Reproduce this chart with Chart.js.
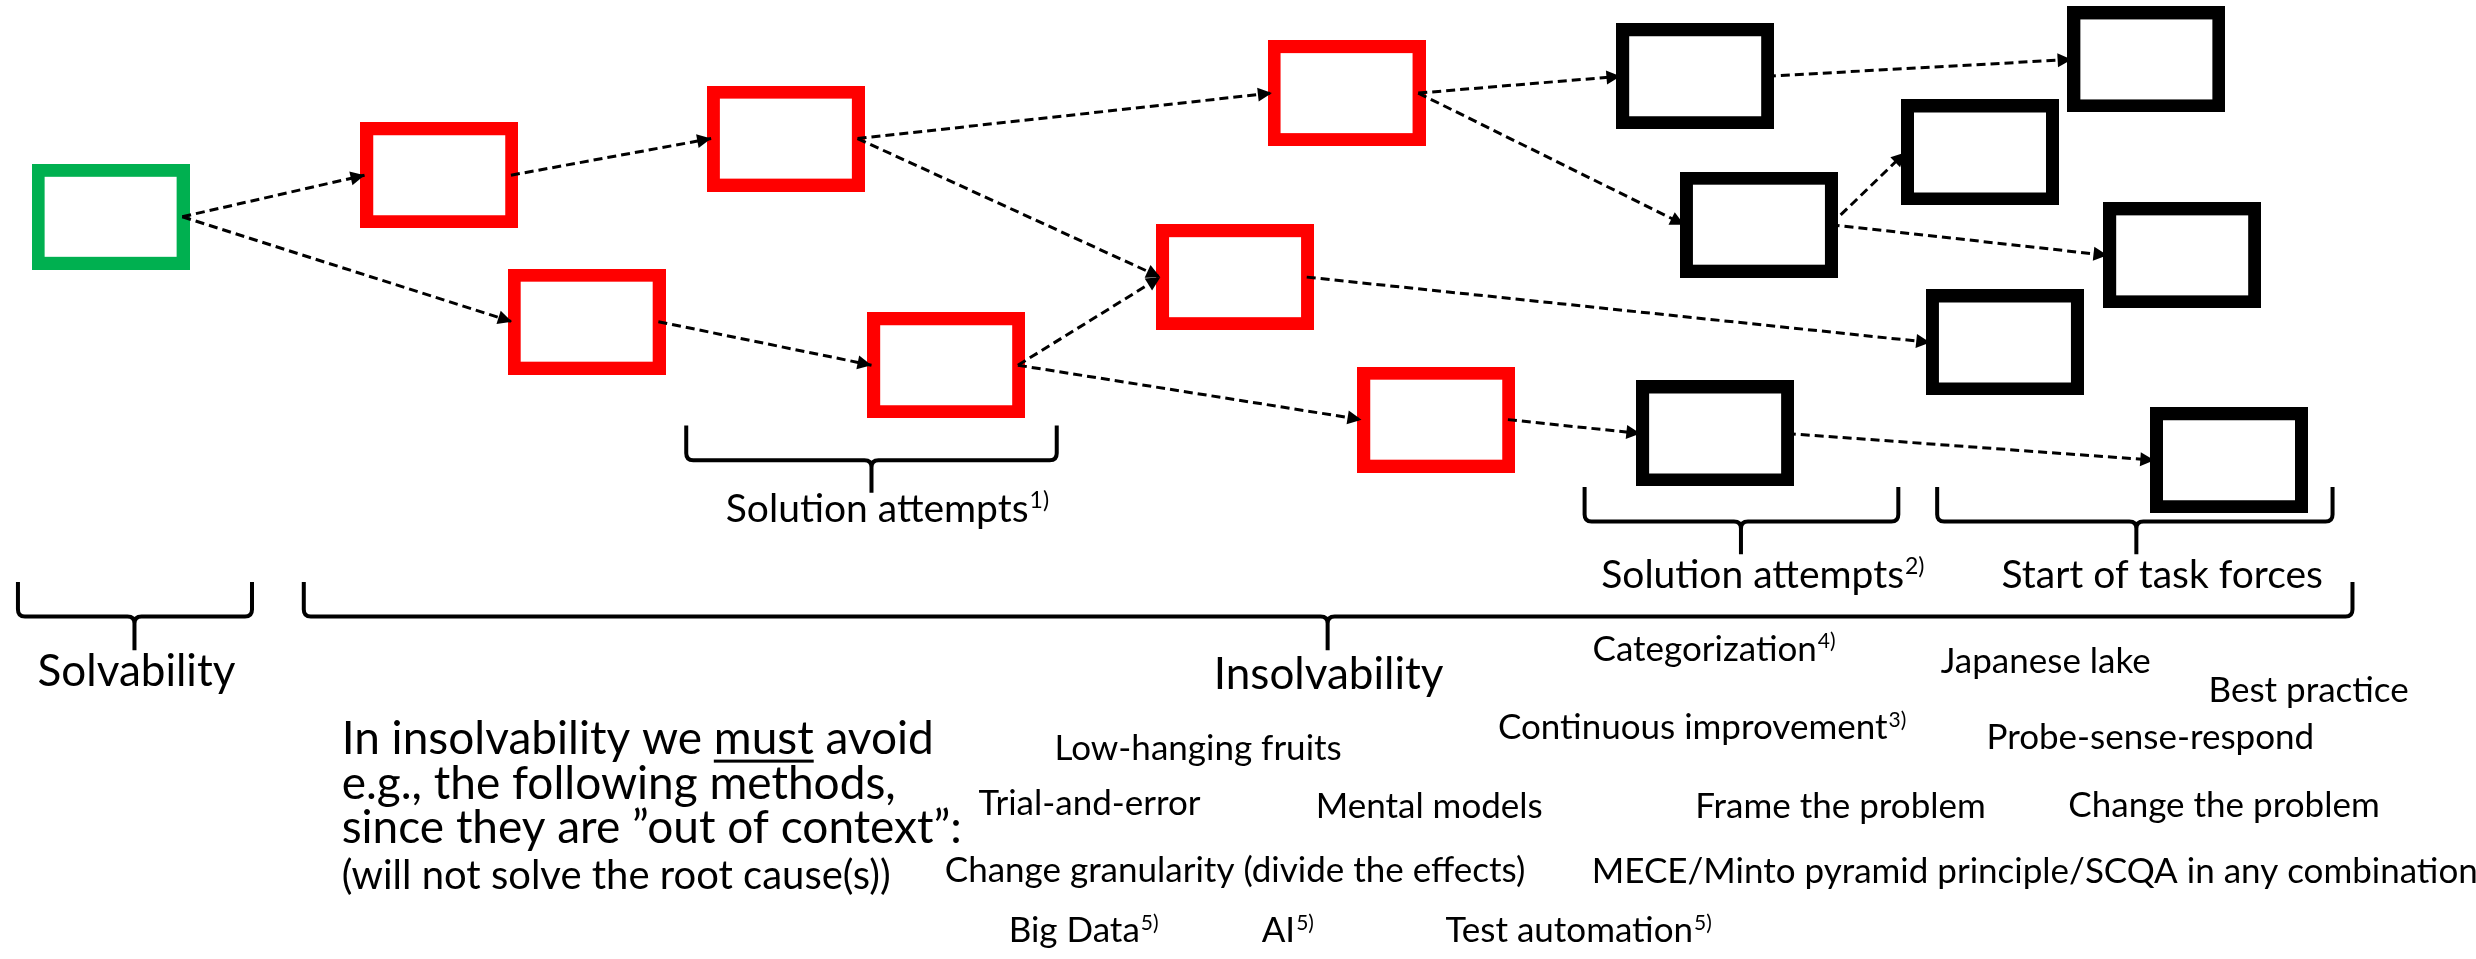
<!DOCTYPE html>
<html lang="en">
<head>
<meta charset="UTF-8">
<title>Solvability and insolvability</title>
<style>
  html, body { margin: 0; padding: 0; background: #fff; }
  #diagram-container { width: 2476px; height: 959px; }
</style>
</head>
<body>
<div id="diagram-container"><canvas id="diagram"></canvas></div>
<script src="https://cdn.jsdelivr.net/npm/chart.js"></script>
<script>
// Boxes: centre of each box in diagram units (x to the right, y downwards)
const boxX = [106, 436, 784, 584, 945, 1235, 1347, 1437, 1697, 2150, 1983, 1761, 2186, 2008, 1717, 2233];
const boxY = [214, 172, 135, 320, 364, 275, 89, 419, 72, 55, 149, 222, 253, 341, 433, 460];
const boxKind = ['solvable', 'attempt', 'attempt', 'attempt', 'attempt', 'attempt', 'attempt', 'attempt',
  'taskforce', 'taskforce', 'taskforce', 'taskforce', 'taskforce', 'taskforce', 'taskforce', 'taskforce'];

// Dashed arrows between boxes (index into the box arrays)
const arrowFrom = [0, 0, 1, 2, 2, 3, 4, 4, 6, 6, 8, 11, 11, 5, 7, 14];
const arrowTo   = [1, 3, 2, 6, 5, 4, 5, 7, 8, 11, 9, 10, 12, 13, 14, 15];

// Curly braces under groups of boxes
const braceLeft   = [684, 13, 300, 1586, 1940];
const braceRight  = [1056, 248, 2357, 1901, 2337];
const braceTip    = [870, 130, 1328, 1743, 2140];
const braceTop    = [425, 583, 583, 487, 487];
const braceLine   = [460, 618, 618, 522, 522];
const braceBottom = [493, 652, 652, 555, 555];

// Labels (centred on x, y = baseline)
const labelText = ['Solution attempts', 'Solvability', 'Insolvability', 'Solution attempts', 'Start of task forces',
  'Categorization', 'Japanese lake', 'Best practice', 'Continuous improvement', 'Probe-sense-respond',
  'Low-hanging fruits', 'Trial-and-error', 'Mental models', 'Frame the problem', 'Change the problem',
  'Change granularity (divide the effects)', 'MECE/Minto pyramid principle/SCQA in any combination',
  'Big Data', 'AI', 'Test automation'];
const labelSup = ['1)', '', '', '2)', '', '4)', '', '', '3)', '', '', '', '', '', '', '', '', '5)', '5)', '5)'];
const labelX = [886, 132, 1329, 1765, 2166, 1716, 2049, 2313, 1704, 2154, 1198, 1089, 1430, 1843, 2228, 1235, 2038, 1083, 1288, 1580];
const labelY = [522, 688, 691, 589, 589, 663, 675, 704, 742, 752, 763, 819, 822, 822, 821, 886, 887, 947, 947, 947];
const labelKind = ['sub', 'group', 'group', 'sub', 'sub', 'method', 'method', 'method', 'method', 'method',
  'method', 'method', 'method', 'method', 'method', 'method', 'method', 'method', 'method', 'method'];

// Left-aligned note; _word_ is underlined
const noteLines = ['In insolvability we _must_ avoid', 'e.g., the following methods,',
  'since they are ”out of context”:', '(will not solve the root cause(s))'];
const noteKind = ['para', 'para', 'para', 'paraSmall'];
const noteX = 338;
const noteY = [757, 802, 847, 893];

const BOX_W = 158, BOX_H = 106, BOX_LINE = 13;
const boxColors = { solvable: '#00B050', attempt: '#FF0000', taskforce: '#000000' };
const fontSize = { group: 44, sub: 39, method: 35, para: 46, paraSmall: 40 };
const fontFamily = 'Lato, "Open Sans", sans-serif';
const font = (s) => s + 'px ' + fontFamily;

function boxImage(color) {
  const c = document.createElement('canvas');
  c.width = BOX_W; c.height = BOX_H;
  const g = c.getContext('2d');
  g.strokeStyle = color;
  g.lineWidth = BOX_LINE;
  g.strokeRect(BOX_LINE / 2, BOX_LINE / 2, BOX_W - BOX_LINE, BOX_H - BOX_LINE);
  return c;
}

const datasets = [];

arrowFrom.forEach((f, i) => {
  const t = arrowTo[i];
  datasets.push({
    kind: 'arrow',
    data: [{ x: boxX[f] + BOX_W / 2 - 7, y: boxY[f] }, { x: boxX[t] - BOX_W / 2 + 4, y: boxY[t] }],
    showLine: true,
    borderColor: '#000',
    borderWidth: 3,
    borderDash: [9, 5],
    pointRadius: 0,
    order: 1
  });
});

Object.keys(boxColors).forEach((kind) => {
  const pts = [];
  boxKind.forEach((k, i) => { if (k === kind) pts.push({ x: boxX[i], y: boxY[i] }); });
  datasets.push({
    kind: 'box',
    data: pts,
    pointStyle: boxImage(boxColors[kind]),
    pointRadius: 1,
    order: 2
  });
});

const braces = {
  id: 'braces',
  beforeDatasetsDraw(chart) {
    const { ctx, scales: { x, y } } = chart;
    ctx.save();
    ctx.strokeStyle = '#000';
    ctx.lineWidth = 4;
    ctx.lineJoin = 'round';
    const r = 7;
    braceLeft.forEach((l, i) => {
      const L = x.getPixelForValue(l), R = x.getPixelForValue(braceRight[i]);
      const X = x.getPixelForValue(braceTip[i]);
      const T = y.getPixelForValue(braceTop[i]), Y = y.getPixelForValue(braceLine[i]);
      const B = y.getPixelForValue(braceBottom[i]);
      ctx.beginPath();
      ctx.moveTo(L, T);
      ctx.lineTo(L, Y - r);
      ctx.quadraticCurveTo(L, Y, L + r, Y);
      ctx.lineTo(X - r, Y);
      ctx.quadraticCurveTo(X, Y, X, Y + r);
      ctx.lineTo(X, B);
      ctx.moveTo(R, T);
      ctx.lineTo(R, Y - r);
      ctx.quadraticCurveTo(R, Y, R - r, Y);
      ctx.lineTo(X + r, Y);
      ctx.quadraticCurveTo(X, Y, X, Y + r);
      ctx.stroke();
    });
    ctx.restore();
  }
};

const arrowHeads = {
  id: 'arrowHeads',
  afterDatasetsDraw(chart) {
    const ctx = chart.ctx;
    ctx.save();
    ctx.fillStyle = '#000';
    chart.data.datasets.forEach((ds, i) => {
      if (ds.kind !== 'arrow') return;
      const pts = chart.getDatasetMeta(i).data;
      const a = pts[0], b = pts[1];
      const ang = Math.atan2(b.y - a.y, b.x - a.x);
      const len = 14, half = 7;
      ctx.beginPath();
      ctx.moveTo(b.x, b.y);
      ctx.lineTo(b.x - len * Math.cos(ang) + half * Math.sin(ang), b.y - len * Math.sin(ang) - half * Math.cos(ang));
      ctx.lineTo(b.x - len * Math.cos(ang) - half * Math.sin(ang), b.y - len * Math.sin(ang) + half * Math.cos(ang));
      ctx.closePath();
      ctx.fill();
    });
    ctx.restore();
  }
};

const diagramText = {
  id: 'diagramText',
  afterDatasetsDraw(chart) {
    const { ctx, scales: { x, y } } = chart;
    ctx.save();
    ctx.fillStyle = '#000';
    ctx.textAlign = 'left';
    ctx.textBaseline = 'alphabetic';

    labelText.forEach((txt, i) => {
      const s = fontSize[labelKind[i]];
      ctx.font = font(s);
      const w1 = ctx.measureText(txt).width;
      ctx.font = font(Math.round(s * 0.6));
      const w2 = labelSup[i] ? ctx.measureText(labelSup[i]).width + 1 : 0;
      const left = x.getPixelForValue(labelX[i]) - (w1 + w2) / 2;
      const base = y.getPixelForValue(labelY[i]);
      ctx.font = font(s);
      ctx.fillText(txt, left, base);
      if (labelSup[i]) {
        ctx.font = font(Math.round(s * 0.6));
        ctx.fillText(labelSup[i], left + w1 + 1, base - s * 0.36);
      }
    });

    noteLines.forEach((line, i) => {
      const s = fontSize[noteKind[i]];
      ctx.font = font(s);
      let cx = x.getPixelForValue(noteX);
      const base = y.getPixelForValue(noteY[i]);
      line.split('_').forEach((part, j) => {
        const w = ctx.measureText(part).width;
        ctx.fillText(part, cx, base);
        if (j % 2 === 1) ctx.fillRect(cx, base + s * 0.12, w, 3);
        cx += w;
      });
    });
    ctx.restore();
  }
};

new Chart(document.getElementById('diagram'), {
  type: 'scatter',
  data: { datasets },
  options: {
    responsive: true,
    maintainAspectRatio: false,
    animation: false,
    events: [],
    layout: { padding: 0 },
    scales: {
      x: { type: 'linear', min: 0, max: 2476, display: false },
      y: { type: 'linear', min: 0, max: 959, reverse: true, display: false }
    },
    plugins: { legend: { display: false }, tooltip: { enabled: false } }
  },
  plugins: [braces, arrowHeads, diagramText]
});
</script>
</body>
</html>
